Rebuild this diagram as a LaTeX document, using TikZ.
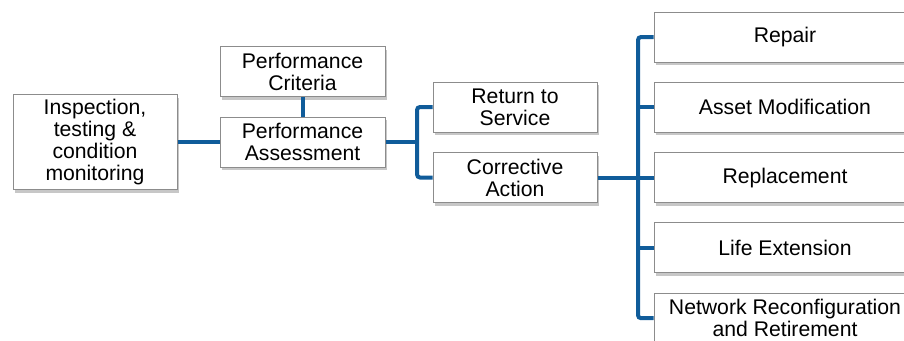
\documentclass[tikz,border=0pt]{standalone}
\usepackage{fontspec}
\setmainfont{Liberation Sans}
\usetikzlibrary{positioning,shadows}
\definecolor{linkblue}{RGB}{16,92,154}
\tikzset{
  box/.style={draw=black!45, line width=1pt, fill=white, align=center, inner sep=2pt,
    minimum width=164pt, minimum height=50pt, font=\fontsize{21.2}{22}\selectfont,
    drop shadow={shadow xshift=2pt, shadow yshift=-3pt, fill=black, opacity=0.22}},
  wide/.style={box, minimum width=262pt},
  link/.style={draw=linkblue, line width=4pt, rounded corners=3pt}
}

\begin{document}
\begin{tikzpicture}[x=1pt, y=-1pt, node distance=19.3pt]
  \useasboundingbox (0,0) rectangle (904,340);
  \clip (0,0) rectangle (904,340);
  \fill[white] (0,0) rectangle (904,340);

  \node[box, minimum height=95pt] (inspect) at (95,142) {Inspection,\\testing \&\\condition\\monitoring};
  \node[box, minimum width=165pt] (assess) at (302.5,142) {Performance\\Assessment};
  \node[box, minimum width=165pt, above=of assess] (criteria) {Performance\\Criteria};
  \node[box] (service) at (515,107) {Return to\\Service};
  \node[box] (corrective) at (515,177.5) {Corrective\\Action};

  \node[wide] (repair) at (785,37) {Repair};
  \node[wide, below=of repair] (modify) {Asset Modification};
  \node[wide, below=of modify] (replace) {Replacement};
  \node[wide, below=of replace] (extend) {Life Extension};
  \node[wide, below=of extend] (retire) {Network Reconfiguration\\and Retirement};

  \coordinate (fork) at (417,0);
  \coordinate (bus) at (638,0);

  \draw[link] (inspect.east) -- (assess.west);
  \draw[link] (criteria.south) -- (assess.north);
  \draw[link] (assess.east) -- (assess.east -| fork);
  \draw[link] (service.west) -| (fork |- corrective.west) -- (corrective.west);
  \draw[link] (corrective.east) -- (corrective.east -| bus);
  \draw[link] (repair.west) -| (bus |- retire.west) -- (retire.west);
  \draw[link] (bus |- modify.west) -- (modify.west);
  \draw[link] (bus |- replace.west) -- (replace.west);
  \draw[link] (bus |- extend.west) -- (extend.west);
\end{tikzpicture}
\end{document}
